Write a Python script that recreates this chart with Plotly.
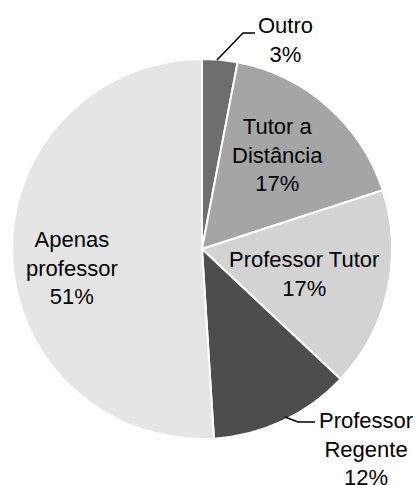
import plotly.graph_objects as go

W, H = 415, 485

categorias = ["Outro", "Tutor a<br>Distância", "Professor Tutor", "Professor<br>Regente", "Apenas<br>professor"]
percentuais = [3, 17, 17, 12, 51]
cores = ["#6e6e6e", "#a5a5a5", "#d3d3d3", "#4d4d4d", "#e5e5e5"]

# label centres in pixels (x, y from top)
label_pos = [(285, 40), (277, 155), (304, 274), (366, 449), (72, 268)]

def px(x, y):
    return x / W, 1 - y / H

fig = go.Figure(go.Pie(
    labels=categorias,
    values=percentuais,
    sort=False,
    direction="clockwise",
    rotation=0,
    marker=dict(colors=cores, line=dict(color="white", width=2)),
    textinfo="none",
    hoverinfo="label+percent",
    showlegend=False,
    domain=dict(x=[12 / W, 392 / W], y=[1 - 439 / H, 1 - 59 / H]),
))

fnt = dict(family="Liberation Sans, Arial", size=22, color="black")
for cat, pct, (lx, ly) in zip(categorias, percentuais, label_pos):
    ax, ay = px(lx, ly)
    fig.add_annotation(x=ax, y=ay, xref="paper", yref="paper", text="%s<br>%d%%" % (cat, pct),
                       showarrow=False, xanchor="center", yanchor="middle", font=fnt)

def leader(pts):
    p = ["%s %f,%f" % ("M" if i == 0 else "L", *px(x, y)) for i, (x, y) in enumerate(pts)]
    return " ".join(p)

fig.add_shape(type="path", xref="paper", yref="paper", path=leader([(217, 60), (243, 33), (255, 33)]),
              line=dict(color="black", width=1.5))
fig.add_shape(type="path", xref="paper", yref="paper", path=leader([(285, 417), (298, 422), (315, 422)]),
              line=dict(color="black", width=1.5))

fig.update_layout(width=W, height=H, margin=dict(l=0, r=0, t=0, b=0),
                  paper_bgcolor="white", plot_bgcolor="white")
fig.write_html("out.html", config={"displayModeBar": False},
               post_script="document.body.style.margin='0';")
